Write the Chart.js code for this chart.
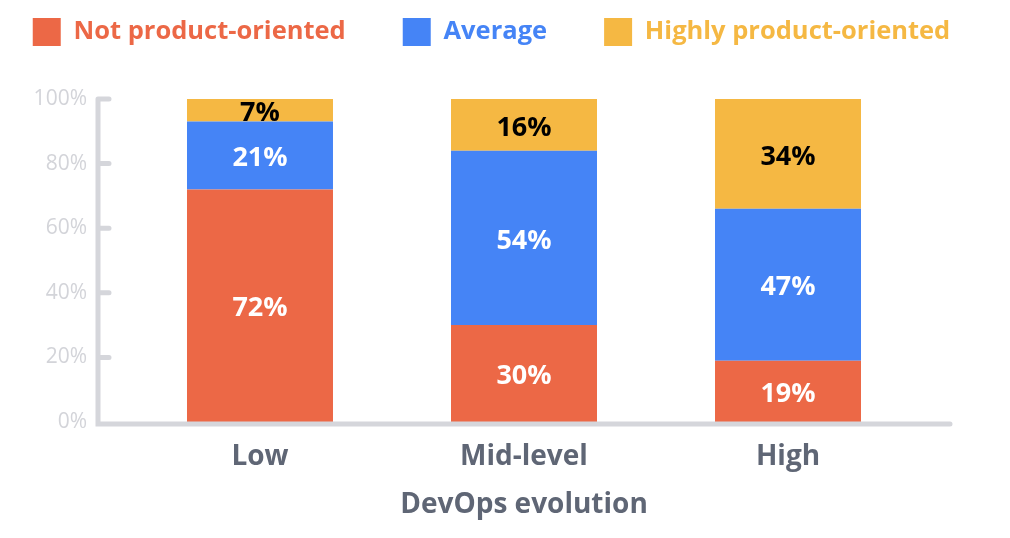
<!DOCTYPE html>
<html lang="en">
<head>
  <meta charset="UTF-8" />
  <title>DevOps evolution</title>
  <script src="https://cdn.jsdelivr.net/npm/chart.js"></script>
  <style>
    html, body { margin: 0; padding: 0; background: #fff; overflow: hidden; }
    #wrap { position: relative; width: 1183px; height: 577px; margin-top: -39px; margin-left: -100px; }
  </style>
</head>
<body>
  <div id="wrap"><canvas id="chart"></canvas></div>

  <script>
    // data
    const categories = ['Low', 'Mid-level', 'High'];
    const notProduct = [72, 30, 19];
    const average = [21, 54, 47];
    const highlyProduct = [7, 16, 34];
    const yTicks = [0, 20, 40, 60, 80, 100];

    const axisColor = '#D5D6DB';
    const labelColor = '#5F6675';
    const font = "'Open Sans', sans-serif";

    const toPoints = arr => arr.map((v, i) => ({ x: i, y: v }));

    // legend: fixed height so the plot starts where it should
    const legendSize = {
      id: 'legendSize',
      beforeInit(chart) {
        const fit = chart.legend.fit;
        chart.legend.fit = function () {
          fit.call(this);
          this.height = 138;
        };
      }
    };

    // axis lines with round caps + inner tick marks
    const axes = {
      id: 'axes',
      afterDatasetsDraw(chart) {
        const { ctx, chartArea, scales } = chart;
        const y = scales.y;
        const top = y.getPixelForValue(100);
        const bottom = y.getPixelForValue(0) + 2;
        const left = chartArea.left;
        ctx.save();
        ctx.strokeStyle = axisColor;
        ctx.lineWidth = 5;
        ctx.lineCap = 'round';
        ctx.beginPath();
        ctx.moveTo(left, top);
        ctx.lineTo(left, bottom);
        ctx.lineTo(chartArea.right, bottom);
        yTicks.filter(t => t > 0).forEach(t => {
          const py = y.getPixelForValue(t);
          ctx.moveTo(left, py);
          ctx.lineTo(left + 11, py);
        });
        ctx.stroke();
        ctx.restore();
      }
    };

    // value labels inside each segment
    const valueLabels = {
      id: 'valueLabels',
      afterDatasetsDraw(chart) {
        const { ctx } = chart;
        ctx.save();
        ctx.font = "bold 27px 'Open Sans', sans-serif";
        ctx.textAlign = 'center';
        ctx.textBaseline = 'middle';
        chart.data.datasets.forEach((ds, i) => {
          chart.getDatasetMeta(i).data.forEach((bar, j) => {
            ctx.fillStyle = ds.valueColor;
            ctx.fillText(ds.data[j].y + '%', bar.x, (bar.y + bar.base) / 2 + 3);
          });
        });
        ctx.restore();
      }
    };

    new Chart(document.getElementById('chart'), {
      type: 'bar',
      data: {
        datasets: [
          { label: 'Not product-oriented', data: toPoints(notProduct), backgroundColor: '#EC6846', valueColor: '#fff' },
          { label: 'Average', data: toPoints(average), backgroundColor: '#4584F6', valueColor: '#fff' },
          { label: 'Highly product-oriented', data: toPoints(highlyProduct), backgroundColor: '#F5B843', valueColor: '#000' }
        ]
      },
      options: {
        responsive: true,
        maintainAspectRatio: false,
        animation: false,
        layout: { padding: 0 },
        datasets: { bar: { categoryPercentage: 1, barPercentage: 0.553 } },
        plugins: {
          tooltip: { enabled: false },
          legend: {
            position: 'top',
            labels: {
              boxWidth: 28,
              boxHeight: 28,
              padding: 57,
              font: { family: font, size: 25.5, weight: 'bold' },
              generateLabels(chart) {
                return chart.data.datasets.map((ds, i) => ({
                  text: ds.label,
                  fillStyle: ds.backgroundColor,
                  strokeStyle: ds.backgroundColor,
                  lineWidth: 0,
                  fontColor: ds.backgroundColor,
                  datasetIndex: i
                }));
              }
            }
          }
        },
        scales: {
          x: {
            type: 'linear',
            stacked: true,
            offset: false,
            min: -0.6136,
            max: categories.length - 1 + 0.6136,
            grid: { display: false, drawTicks: false },
            border: { display: false },
            afterBuildTicks(scale) { scale.ticks = categories.map((_, i) => ({ value: i })); },
            afterFit(scale) { scale.height = 116; },
            ticks: {
              padding: 18,
              color: labelColor,
              font: { family: font, size: 28, weight: 'bold' },
              callback: v => categories[v]
            },
            title: {
              display: true,
              text: 'DevOps evolution',
              color: labelColor,
              font: { family: font, size: 28, weight: 'bold' },
              padding: { top: 0, bottom: 16 }
            }
          },
          y: {
            stacked: true,
            min: 0,
            max: 100,
            afterFit(scale) { scale.width = 198; },
            afterBuildTicks(scale) { scale.ticks = yTicks.map(v => ({ value: v })); },
            grid: { display: false, drawTicks: false },
            border: { display: false },
            ticks: {
              padding: 11,
              color: '#D3D4D9',
              font: { family: font, size: 21 },
              callback: v => v + '%'
            }
          },
          // empty right-hand spacer
          yRight: {
            position: 'right',
            min: 0,
            max: 100,
            afterFit(scale) { scale.width = 133; },
            grid: { display: false, drawTicks: false },
            border: { display: false },
            ticks: { display: false }
          }
        }
      },
      plugins: [legendSize, axes, valueLabels]
    });
  </script>
</body>
</html>
